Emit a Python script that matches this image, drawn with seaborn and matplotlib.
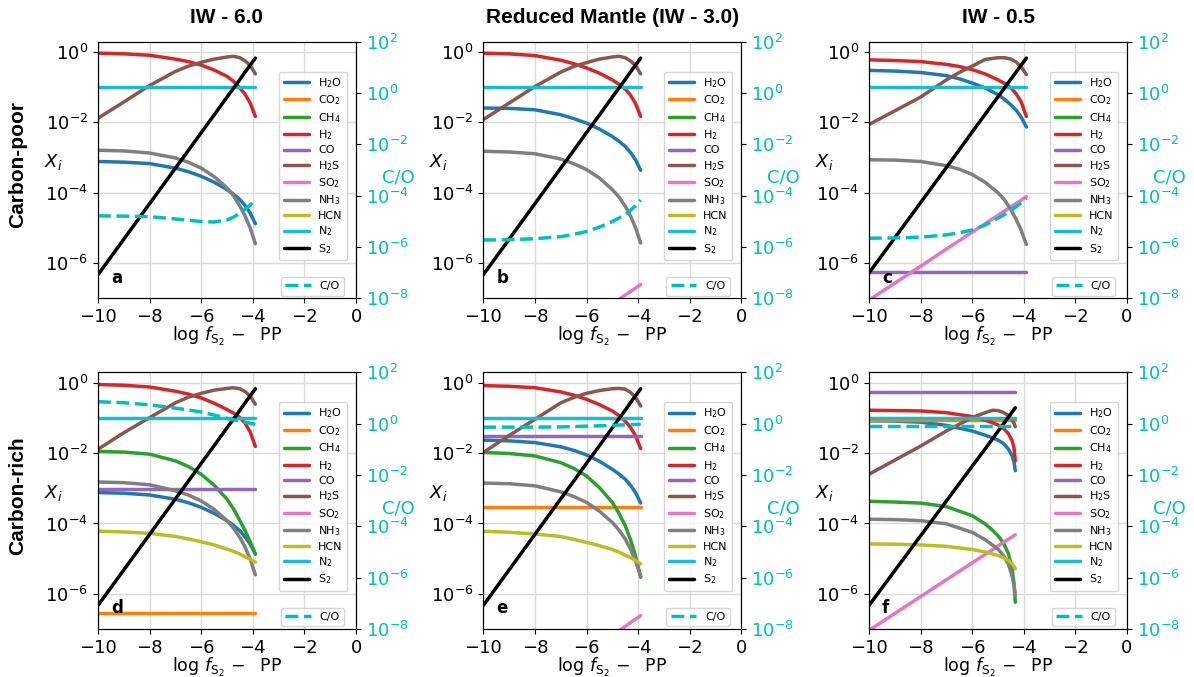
import numpy as np
import pandas as pd
import matplotlib
matplotlib.use("Agg")
import matplotlib.pyplot as plt
import seaborn as sns
from matplotlib.lines import Line2D

species = ["H2O", "CO2", "CH4", "H2", "CO", "H2S", "SO2", "NH3", "HCN", "N2", "S2"]
labels = ["H$_2$O", "CO$_2$", "CH$_4$", "H$_2$", "CO", "H$_2$S", "SO$_2$",
          "NH$_3$", "HCN", "N$_2$", "S$_2$"]
colors = ["tab:blue", "tab:orange", "tab:green", "tab:red", "tab:purple", "tab:brown",
          "tab:pink", "tab:gray", "tab:olive", "tab:cyan", "black"]
pal = dict(zip(species, colors))

col_titles = ["IW - 6.0", "Reduced Mantle (IW - 3.0)", "IW - 0.5"]
row_titles = ["Carbon-poor", "Carbon-rich"]

# log f_S2 - PP grid
x_grid = [-10, -9, -8, -7, -6.5, -6, -5.5, -5, -4.75, -4.5, -4.3, -4.1, -3.9]
x_grid_f = [-10, -9, -8, -7, -6, -5.5, -5.2, -5, -4.8, -4.6, -4.45, -4.38, -4.33]

S2_line = [-6.33, -5.32, -4.31, -3.30, -2.80, -2.29, -1.79, -1.28, -1.03, -0.78, -0.57, -0.37, -0.17]

# log10 mole fractions (flat lines given as one value, None = off scale)
logX_a = {
    "H2O": [-3.11, -3.13, -3.17, -3.30, -3.40, -3.53, -3.70, -3.91, -4.04, -4.19, -4.36, -4.58, -4.88],
    "H2": [-0.03, -0.05, -0.09, -0.20, -0.27, -0.37, -0.51, -0.69, -0.83, -1.02, -1.20, -1.45, -1.83],
    "H2S": [-1.88, -1.42, -0.95, -0.55, -0.40, -0.29, -0.20, -0.14, -0.12, -0.16, -0.25, -0.38, -0.62],
    "NH3": [-2.79, -2.81, -2.87, -3.01, -3.13, -3.30, -3.54, -3.86, -4.08, -4.38, -4.66, -5.00, -5.45],
    "N2": -1.0,
    "S2": S2_line,
}
co_a = [-4.79, -4.80, -4.82, -4.91, -4.96, -5.01, -5.03, -4.95, -4.84, -4.69, -4.53, -4.37, -4.17]

logX_b = {
    "H2O": [-1.59, -1.60, -1.64, -1.78, -1.89, -2.02, -2.19, -2.40, -2.53, -2.68, -2.85, -3.06, -3.36],
    "H2": [-0.03, -0.05, -0.10, -0.23, -0.33, -0.45, -0.60, -0.79, -0.91, -1.05, -1.22, -1.46, -1.83],
    "H2S": [-1.92, -1.45, -0.98, -0.57, -0.41, -0.30, -0.20, -0.14, -0.12, -0.16, -0.25, -0.38, -0.62],
    "SO2": [None, None, None, None, None, None, None, -7.16, -7.03, -6.91, -6.81, -6.71, -6.61],
    "NH3": [-2.82, -2.84, -2.89, -3.04, -3.17, -3.34, -3.58, -3.91, -4.11, -4.38, -4.65, -4.99, -5.43],
    "N2": -1.0,
    "S2": S2_line,
}
co_b = [-5.73, -5.72, -5.68, -5.60, -5.51, -5.40, -5.23, -5.01, -4.88, -4.73, -4.58, -4.40, -4.17]

logX_c = {
    "H2O": [-0.52, -0.54, -0.58, -0.67, -0.76, -0.88, -1.02, -1.21, -1.34, -1.50, -1.65, -1.85, -2.13],
    "H2": [-0.22, -0.24, -0.27, -0.35, -0.41, -0.50, -0.62, -0.79, -0.89, -1.02, -1.18, -1.42, -1.83],
    "CO": -6.26,
    "H2S": [-2.06, -1.67, -1.28, -0.79, -0.58, -0.40, -0.21, -0.16, -0.16, -0.20, -0.28, -0.42, -0.64],
    "SO2": [-7.05, -6.57, -6.09, -5.60, -5.36, -5.12, -4.88, -4.64, -4.52, -4.40, -4.30, -4.21, -4.11],
    "NH3": [-3.06, -3.07, -3.11, -3.23, -3.33, -3.48, -3.70, -4.00, -4.20, -4.48, -4.75, -5.07, -5.47],
    "N2": -1.0,
    "S2": [-6.28, -5.28, -4.28, -3.28, -2.78, -2.27, -1.77, -1.27, -1.02, -0.77, -0.57, -0.37, -0.17],
}
co_c = [-5.66, -5.65, -5.62, -5.53, -5.45, -5.34, -5.15, -4.88, -4.74, -4.58, -4.44, -4.28, -4.10]

logX_d = {
    "H2O": [-3.12, -3.14, -3.19, -3.31, -3.41, -3.54, -3.71, -3.92, -4.05, -4.21, -4.38, -4.59, -4.87],
    "CO2": -6.55,
    "CH4": [-1.95, -1.97, -2.03, -2.22, -2.38, -2.60, -2.91, -3.31, -3.58, -3.92, -4.20, -4.52, -4.87],
    "H2": [-0.05, -0.07, -0.12, -0.24, -0.32, -0.43, -0.58, -0.76, -0.86, -0.99, -1.15, -1.40, -1.81],
    "CO": -3.02,
    "H2S": [-1.89, -1.42, -0.99, -0.57, -0.41, -0.30, -0.21, -0.16, -0.14, -0.17, -0.25, -0.38, -0.61],
    "NH3": [-2.82, -2.84, -2.90, -3.07, -3.19, -3.36, -3.60, -3.92, -4.13, -4.40, -4.67, -5.01, -5.46],
    "HCN": [-4.22, -4.24, -4.28, -4.37, -4.44, -4.52, -4.61, -4.73, -4.79, -4.87, -4.95, -5.02, -5.10],
    "N2": -1.01,
    "S2": S2_line,
}
co_d = [0.85, 0.81, 0.73, 0.60, 0.53, 0.45, 0.33, 0.20, 0.15, 0.10, 0.05, 0.01, -0.03]

logX_e = {
    "H2O": [-1.63, -1.65, -1.70, -1.82, -1.92, -2.05, -2.23, -2.46, -2.59, -2.74, -2.91, -3.12, -3.42],
    "CO2": -3.54,
    "CH4": [-1.98, -2.01, -2.08, -2.27, -2.43, -2.65, -2.98, -3.40, -3.70, -4.06, -4.45, -4.92, -5.53],
    "H2": [-0.08, -0.10, -0.14, -0.26, -0.35, -0.47, -0.62, -0.80, -0.93, -1.09, -1.26, -1.50, -1.87],
    "CO": -1.51,
    "H2S": [-1.98, -1.50, -1.04, -0.57, -0.42, -0.30, -0.22, -0.17, -0.16, -0.18, -0.27, -0.41, -0.66],
    "SO2": [None, None, None, None, None, None, None, -7.17, -7.05, -6.93, -6.82, -6.72, -6.62],
    "NH3": [-2.85, -2.87, -2.93, -3.10, -3.23, -3.40, -3.65, -3.97, -4.18, -4.44, -4.72, -5.06, -5.50],
    "HCN": [-4.22, -4.25, -4.30, -4.37, -4.45, -4.54, -4.63, -4.74, -4.81, -4.90, -4.97, -5.05, -5.15],
    "N2": -1.01,
    "S2": S2_line,
}
co_e = [-0.14, -0.14, -0.14, -0.13, -0.12, -0.10, -0.09, -0.07, -0.06, -0.05, -0.04, -0.04, -0.03]

logX_f = {
    "H2O": [-1.08, -1.09, -1.12, -1.21, -1.37, -1.49, -1.57, -1.63, -1.72, -1.88, -2.08, -2.25, -2.50],
    "CO2": -1.07,
    "CH4": [-3.37, -3.39, -3.42, -3.52, -3.78, -4.01, -4.20, -4.35, -4.54, -4.85, -5.30, -5.70, -6.24],
    "H2": [-0.78, -0.79, -0.80, -0.85, -0.96, -1.06, -1.14, -1.20, -1.29, -1.44, -1.65, -1.85, -2.22],
    "CO": -0.26,
    "H2S": [-2.60, -2.20, -1.80, -1.37, -0.99, -0.85, -0.78, -0.79, -0.84, -0.93, -1.05, -1.15, -1.25],
    "SO2": [-7.04, -6.56, -6.08, -5.60, -5.12, -4.88, -4.74, -4.64, -4.54, -4.45, -4.38, -4.34, -4.32],
    "NH3": [-3.88, -3.89, -3.92, -4.01, -4.25, -4.46, -4.62, -4.73, -4.90, -5.15, -5.50, -5.75, -6.05],
    "HCN": [-4.58, -4.59, -4.61, -4.65, -4.74, -4.81, -4.87, -4.91, -4.97, -5.05, -5.15, -5.22, -5.29],
    "N2": -1.01,
    "S2": [-6.33, -5.34, -4.35, -3.36, -2.37, -1.88, -1.58, -1.38, -1.18, -0.98, -0.83, -0.76, -0.71],
}
co_f = -0.10

panels = [
    (0, 0, "a", x_grid, logX_a, co_a),
    (0, 1, "b", x_grid, logX_b, co_b),
    (0, 2, "c", x_grid, logX_c, co_c),
    (1, 0, "d", x_grid, logX_d, co_d),
    (1, 1, "e", x_grid, logX_e, co_e),
    (1, 2, "f", x_grid_f, logX_f, co_f),
]

sns.set_style("ticks", rc={"axes.edgecolor": "black", "text.color": "black",
                           "axes.labelcolor": "black", "xtick.color": "black",
                           "ytick.color": "black"})
plt.rcParams["font.family"] = ["DejaVu Sans"]


def expand(vals, n):
    if np.isscalar(vals):
        return [vals] * n
    return vals


fig = plt.figure(figsize=(11.94, 6.77), dpi=100)
lefts = [98 / 1194, 483.3 / 1194, 869 / 1194]
bottoms = [(677 - 298.3) / 677, (677 - 629) / 677]
W, H = 258 / 1194, 256.8 / 677

for row, col, tag, xs, logx, co in panels:
    ax = fig.add_axes([lefts[col], bottoms[row], W, H])
    recs = []
    for sp in species:
        if sp not in logx:
            continue
        for xv, lv in zip(xs, expand(logx[sp], len(xs))):
            if lv is not None:
                recs.append((sp, xv, 10.0 ** lv))
    df = pd.DataFrame(recs, columns=["species", "x", "X"])
    order = [s for s in species if s in logx]
    sns.lineplot(data=df, x="x", y="X", hue="species", hue_order=order,
                 palette=pal, lw=2.5, legend=False, estimator=None,
                 sort=False, ax=ax)
    ax.set_yscale("log")
    ax.set_xlim(-10, 0)
    ax.set_ylim(1e-7, 2)
    ax.set_xticks([-10, -8, -6, -4, -2, 0])
    ax.set_yticks([1e0, 1e-2, 1e-4, 1e-6])
    ax.minorticks_off()
    ax.grid(True, color="#dadada", lw=1)
    ax.tick_params(labelsize=13, length=3.5)
    ax.set_xlabel(r"$\log\,f_{\mathrm{S_2}}\,-$  PP", fontsize=12.5, labelpad=-0.5)
    ax.set_ylabel("$X_i$", fontsize=13, rotation=0, ha="center", va="center")
    ax.yaxis.set_label_coords(-0.175, 0.53)
    ax.text(0.05, 0.045, tag, transform=ax.transAxes, fontsize=12,
            fontweight="bold", ha="left", va="bottom")

    handles = [Line2D([], [], color=c, lw=2.5) for c in colors]
    ax.legend(handles, labels, fontsize=8, loc="upper right",
              bbox_to_anchor=(0.965, 0.883), borderaxespad=0,
              handlelength=2.3, labelspacing=0.32)

    ax2 = ax.twinx()
    co_df = pd.DataFrame({"x": xs, "CO": [10.0 ** v for v in expand(co, len(xs))]})
    sns.lineplot(data=co_df, x="x", y="CO", color="c", lw=2.5, ls="--",
                 ax=ax2, estimator=None, sort=False)
    ax2.set_yscale("log")
    ax2.set_ylim(1e-8, 1e2)
    ax2.set_yticks([1e-8, 1e-6, 1e-4, 1e-2, 1e0, 1e2])
    ax2.minorticks_off()
    ax2.tick_params(axis="y", labelsize=13, labelcolor="c", length=3.5)
    ax2.set_ylabel("C/O", fontsize=13, color="c", rotation=0,
                   ha="center", va="center")
    ax2.yaxis.set_label_coords(1.165, 0.47)
    ax2.set_xlabel("")
    ax2.legend([Line2D([], [], color="c", lw=2.5, ls="--")], ["C/O"],
               fontsize=8, loc="lower right", bbox_to_anchor=(0.955, 0.01),
               borderaxespad=0, handlelength=2.3)

    if row == 0:
        ax.set_title(col_titles[col], fontsize=15, fontweight="bold",
                     family=["Liberation Sans", "DejaVu Sans"], pad=13)

for r, name in enumerate(row_titles):
    yc = bottoms[r] + H * 0.52
    fig.text(18 / 1194, yc, name, rotation=90, fontsize=15, fontweight="bold",
             family=["Liberation Sans", "DejaVu Sans"], ha="center", va="center")

fig.savefig("out.png", dpi=100)
